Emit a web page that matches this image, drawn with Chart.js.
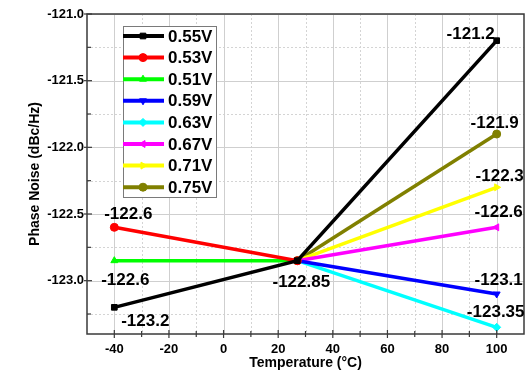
<!DOCTYPE html>
<html>
<head>
<meta charset="utf-8">
<script src="https://cdn.jsdelivr.net/npm/chart.js@4.4.1/dist/chart.umd.min.js"></script>
<style>
  html, body { margin: 0; padding: 0; background: #fff; }
  #wrap { width: 530px; height: 373px; position: relative; }
</style>
</head>
<body>
<div id="wrap"><canvas id="chart"></canvas></div>
<script>
// ─────────────────────────────────────────────
//  DATA
// ─────────────────────────────────────────────
const temps = [-40, 27, 100];
const seriesNames = ['0.55V', '0.53V', '0.51V', '0.59V', '0.63V', '0.67V', '0.71V', '0.75V'];

const v055 = [-123.2, -122.85, -121.2];
const v053 = [-122.6, -122.85, null];
const v051 = [-122.85, -122.85, null];
const v059 = [null, -122.85, -123.1];
const v063 = [null, -122.85, -123.35];
const v067 = [null, -122.85, -122.6];
const v071 = [null, -122.85, -122.3];
const v075 = [null, -122.85, -121.9];

// value labels exactly as printed on the figure
const lbl055 = ['-123.2', '-122.85', '-121.2'];
const lbl053 = ['-122.6', '', ''];
const lbl051 = ['-122.6', '', ''];
const lbl059 = ['', '', '-123.1'];
const lbl063 = ['', '', '-123.35'];
const lbl067 = ['', '', '-122.6'];
const lbl071 = ['', '', '-122.3'];
const lbl075 = ['', '', '-121.9'];

const xTicks = [-40, -20, 0, 20, 40, 60, 80, 100];
const xMinor = [-30, -10, 10, 30, 50, 70, 90];
const yTicks = [-123.0, -122.5, -122.0, -121.5, -121.0];
const yMinor = [-123.25, -122.75, -122.25, -121.75, -121.25];

// ─────────────────────────────────────────────
//  STYLE
// ─────────────────────────────────────────────
const seriesValues = [v055, v053, v051, v059, v063, v067, v071, v075];
const seriesLabels = [lbl055, lbl053, lbl051, lbl059, lbl063, lbl067, lbl071, lbl075];
const colors = ['#000000', '#ff0000', '#00ff00', '#0000ff', '#00ffff', '#ff00ff', '#ffff00', '#808000'];
const markers = [
  { style: 'rect', rot: 0 },
  { style: 'circle', rot: 0 },
  { style: 'triangle', rot: 0 },
  { style: 'triangle', rot: 180 },
  { style: 'rectRot', rot: 0 },
  { style: 'triangle', rot: 270 },
  { style: 'triangle', rot: 90 },
  { style: 'circle', rot: 0 }
];
// where each value label sits, relative to its point (px)
const labelShift = [
  [[31, 14], [4, 22], [-26, -6]],
  [[14, -13], null, null],
  [[11, 20], null, null],
  [null, null, [2, -14]],
  [null, null, [-1, -15]],
  [null, null, [2, -15]],
  [null, null, [3, -11]],
  [null, null, [-2, -11]]
];

const FONT = 'Arial, "Liberation Sans", sans-serif';

const datasets = seriesNames.map((name, i) => ({
  label: name,
  data: temps.map((t, j) => ({ x: t, y: seriesValues[i][j] })),
  borderColor: colors[i],
  backgroundColor: colors[i],
  borderWidth: 3.5,
  pointStyle: markers[i].style,
  rotation: markers[i].rot,
  pointRadius: 4,
  pointBorderWidth: 1,
  spanGaps: false,
  tension: 0
}));

// ─────────────────────────────────────────────
//  PLUGINS
// ─────────────────────────────────────────────
const gridFrame = {
  id: 'gridFrame',
  beforeDatasetsDraw(chart) {
    const { ctx, chartArea: a, scales: { x, y } } = chart;
    ctx.save();
    ctx.lineWidth = 1;
    ctx.strokeStyle = '#d4d4d4';
    ctx.setLineDash([2, 2]);
    xMinor.forEach(v => { const px = Math.round(x.getPixelForValue(v)) + 0.5; line(ctx, px, a.top, px, a.bottom); });
    yMinor.forEach(v => { const py = Math.round(y.getPixelForValue(v)) + 0.5; line(ctx, a.left, py, a.right, py); });
    ctx.setLineDash([]);
    ctx.strokeStyle = '#cfcfcf';
    xTicks.forEach(v => { const px = Math.round(x.getPixelForValue(v)) + 0.5; line(ctx, px, a.top, px, a.bottom); });
    yTicks.forEach(v => { const py = Math.round(y.getPixelForValue(v)) + 0.5; line(ctx, a.left, py, a.right, py); });
    ctx.restore();
  },
  afterDatasetsDraw(chart) {
    const { ctx, chartArea: a, scales: { x, y } } = chart;
    ctx.save();
    ctx.strokeStyle = '#3a3a3a';
    ctx.lineWidth = 1.5;
    ctx.strokeRect(a.left, a.top, a.right - a.left, a.bottom - a.top);
    ctx.lineWidth = 1.2;
    xTicks.forEach(v => { const px = x.getPixelForValue(v); line(ctx, px, a.bottom - 4, px, a.bottom + 4); });
    xMinor.forEach(v => { const px = x.getPixelForValue(v); line(ctx, px, a.bottom - 3, px, a.bottom + 3); });
    yTicks.forEach(v => { const py = y.getPixelForValue(v); line(ctx, a.left - 3, py, a.left + 5, py); });
    yMinor.forEach(v => { const py = y.getPixelForValue(v); line(ctx, a.left, py, a.left + 4, py); });
    ctx.restore();
  }
};

function line(ctx, x1, y1, x2, y2) {
  ctx.beginPath();
  ctx.moveTo(x1, y1);
  ctx.lineTo(x2, y2);
  ctx.stroke();
}

const valueLabels = {
  id: 'valueLabels',
  afterDatasetsDraw(chart) {
    const { ctx } = chart;
    ctx.save();
    ctx.font = 'bold 17px ' + FONT;
    ctx.fillStyle = '#000';
    ctx.textAlign = 'center';
    ctx.textBaseline = 'middle';
    seriesLabels.forEach((texts, i) => {
      const meta = chart.getDatasetMeta(i);
      texts.forEach((t, j) => {
        const shift = labelShift[i][j];
        if (!t || !shift) return;
        const pt = meta.data[j];
        ctx.fillText(t, pt.x + shift[0], pt.y + shift[1]);
      });
    });
    ctx.restore();
  }
};

const boxLegend = {
  id: 'boxLegend',
  afterDraw(chart) {
    const { ctx } = chart;
    const left = 123, top = 26, w = 93, rowH = 21.6;
    const h = 171;
    ctx.save();
    ctx.fillStyle = '#fff';
    ctx.fillRect(left, top, w, h);
    ctx.strokeStyle = '#7a7a7a';
    ctx.lineWidth = 1;
    ctx.strokeRect(left + 0.5, top + 0.5, w, h);
    chart.data.datasets.forEach((ds, i) => {
      const cy = top + 10 + rowH * i;
      ctx.strokeStyle = ds.borderColor;
      ctx.fillStyle = ds.backgroundColor;
      ctx.lineWidth = 4;
      line(ctx, left, cy, left + 41, cy);
      ctx.lineWidth = 1;
      Chart.helpers.drawPoint(ctx, { pointStyle: ds.pointStyle, rotation: ds.rotation, radius: 4, borderWidth: 1 }, left + 20, cy);
      ctx.fillStyle = '#000';
      ctx.font = 'bold 17px ' + FONT;
      ctx.textAlign = 'left';
      ctx.textBaseline = 'middle';
      ctx.fillText(ds.label, left + 45, cy + 1);
    });
    ctx.restore();
  }
};

// ─────────────────────────────────────────────
//  CHART
// ─────────────────────────────────────────────
const tickFont = { family: FONT, size: 13, weight: 'bold' };
const titleFont = { family: FONT, size: 14, weight: 'bold' };

new Chart(document.getElementById('chart').getContext('2d'), {
  type: 'line',
  data: { datasets },
  options: {
    responsive: true,
    maintainAspectRatio: false,
    animation: false,
    layout: { padding: { top: 14, right: 6, left: 0, bottom: 0 } },
    plugins: { legend: { display: false }, tooltip: { enabled: false } },
    scales: {
      x: {
        type: 'linear', min: -50, max: 110,
        afterBuildTicks: s => { s.ticks = xTicks.map(v => ({ value: v })); },
        afterFit: s => { s.height = 39; },
        grid: { display: false, drawTicks: false },
        border: { display: false },
        ticks: { color: '#000', font: tickFont, padding: 8, maxRotation: 0, autoSkip: false, callback: v => String(v) },
        title: { display: true, text: 'Temperature (°C)', color: '#000', font: titleFont, padding: { top: 0, bottom: 1 } }
      },
      y: {
        type: 'linear', min: -123.4, max: -121.0,
        afterBuildTicks: s => { s.ticks = yTicks.map(v => ({ value: v })); },
        afterFit: s => { s.width = 87; },
        grid: { display: false, drawTicks: false },
        border: { display: false },
        ticks: { color: '#000', font: tickFont, padding: 3, autoSkip: false, callback: v => v.toFixed(1) },
        title: { display: true, text: 'Phase Noise (dBc/Hz)', color: '#000', font: titleFont, padding: { top: 27, bottom: 0 } }
      }
    }
  },
  plugins: [gridFrame, valueLabels, boxLegend]
});
</script>
</body>
</html>
